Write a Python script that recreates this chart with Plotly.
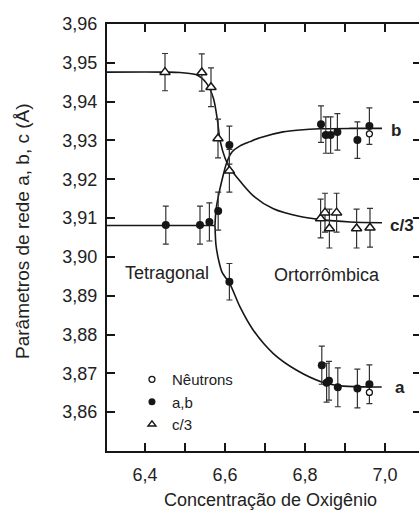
import plotly.graph_objects as go

# ---- measured lattice parameters ----
c3_x = [6.45, 6.542, 6.565, 6.5825, 6.611, 6.839, 6.85, 6.861, 6.879, 6.929, 6.9625]
c3_y = [3.9476, 3.9475, 3.9437, 3.9305, 3.9222, 3.9099, 3.9114, 3.9073, 3.9114, 3.9073, 3.9075]
c3_err = [0.0048, 0.0048, 0.005, 0.005, 0.0055, 0.005, 0.005, 0.005, 0.005, 0.005, 0.005]

ab_x = [6.452, 6.5375, 6.561, 6.583, 6.611, 6.611,
        6.84, 6.852, 6.864, 6.881, 6.931, 6.961,
        6.842, 6.854, 6.86, 6.882, 6.931, 6.961]
ab_y = [3.9082, 3.9082, 3.909, 3.9118, 3.9288, 3.8936,
        3.9342, 3.9314, 3.9314, 3.9322, 3.9301, 3.9337,
        3.8721, 3.8676, 3.8681, 3.8664, 3.8661, 3.8672]
ab_err = [0.0049, 0.0049, 0.0049, 0.0049, 0.0049, 0.0047,
          0.0047, 0.0047, 0.0047, 0.0047, 0.0047, 0.0047,
          0.0049, 0.005, 0.005, 0.005, 0.005, 0.005]

neutron_x = [6.961, 6.961]
neutron_y = [3.9317, 3.8651]

# ---- guide curves ----
c3_curve_x = [6.305, 6.45, 6.4875, 6.529, 6.554, 6.571, 6.581, 6.5875, 6.6, 6.6125,
              6.629, 6.671, 6.721, 6.788, 6.839, 6.9125, 6.9925]
c3_curve_y = [3.9476, 3.9476, 3.9475, 3.9469, 3.9447, 3.9409, 3.9353, 3.9301, 3.9255, 3.9229,
              3.9206, 3.9157, 3.9124, 3.9104, 3.9096, 3.9090, 3.9088]

tet_x = [6.305, 6.575]
tet_y = [3.9081, 3.9081]

b_curve_x = [6.575, 6.5775, 6.584, 6.5925, 6.604, 6.6175, 6.6375, 6.6625, 6.6875,
             6.745, 6.7875, 6.8375, 6.9125, 6.9925]
b_curve_y = [3.9081, 3.9121, 3.9159, 3.9198, 3.9242, 3.9270, 3.9286, 3.9297, 3.9307,
             3.9322, 3.9327, 3.9330, 3.9331, 3.9331]

a_curve_x = [6.575, 6.5775, 6.584, 6.5925, 6.6125, 6.6375, 6.6708, 6.7208, 6.7793,
             6.8418, 6.8958, 6.9918]
a_curve_y = [3.9081, 3.9030, 3.8992, 3.8961, 3.8930, 3.8871, 3.8811, 3.8751, 3.8708,
             3.8678, 3.8667, 3.8665]

# ---- axes ticks ----
x_tickvals = [6.4, 6.5, 6.6, 6.7, 6.8, 6.9, 7.0]
x_ticktext = ["6,4", "", "6,6", "", "6,8", "", "7,0"]
y_tickvals = [3.86, 3.87, 3.88, 3.89, 3.90, 3.91, 3.92, 3.93, 3.94, 3.95, 3.96]
y_ticktext = ["3,86", "3,87", "3,88", "3,89", "3,90", "3,91", "3,92", "3,93", "3,94", "3,95", "3,96"]

FONT = "Liberation Sans, Arial, Helvetica, sans-serif"
INK = "#161616"
BAR = "#333333"

fig = go.Figure()

curve_line = dict(color=INK, width=1.6, shape="spline", smoothing=0.8)
for cx, cy in [(c3_curve_x, c3_curve_y), (b_curve_x, b_curve_y), (a_curve_x, a_curve_y)]:
    fig.add_trace(go.Scatter(x=cx, y=cy, mode="lines", line=curve_line,
                             showlegend=False, hoverinfo="skip"))
fig.add_trace(go.Scatter(x=tet_x, y=tet_y, mode="lines", line=dict(color=INK, width=1.6),
                         showlegend=False, hoverinfo="skip"))

err_style = dict(type="data", visible=True, thickness=1.2, width=3, color=BAR)

fig.add_trace(go.Scatter(
    x=c3_x, y=c3_y, mode="markers", showlegend=False,
    error_y=dict(array=c3_err, **err_style),
    marker=dict(symbol="triangle-up", size=9, color="white", line=dict(color=INK, width=1.5)),
))
fig.add_trace(go.Scatter(
    x=ab_x, y=ab_y, mode="markers", showlegend=False,
    error_y=dict(array=ab_err, **err_style),
    marker=dict(symbol="circle", size=8, color=INK, line=dict(width=0)),
))
fig.add_trace(go.Scatter(
    x=neutron_x, y=neutron_y, mode="markers", showlegend=False,
    marker=dict(symbol="circle", size=6, color="white", line=dict(color=INK, width=1.3)),
))

# legend entries
fig.add_trace(go.Scatter(x=[None], y=[None], mode="markers", name="Nêutrons",
                         marker=dict(symbol="circle", size=6, color="white",
                                     line=dict(color=INK, width=1.3))))
fig.add_trace(go.Scatter(x=[None], y=[None], mode="markers", name="a,b",
                         marker=dict(symbol="circle", size=7, color=INK)))
fig.add_trace(go.Scatter(x=[None], y=[None], mode="markers", name="c/3",
                         marker=dict(symbol="triangle-up", size=7, color="white",
                                     line=dict(color=INK, width=1.4))))

# right-hand tick marks (no axis line on that side)
fig.add_trace(go.Scatter(x=[None], y=[None], yaxis="y2", showlegend=False))

axis_common = dict(showgrid=False, zeroline=False, ticks="inside", ticklen=8, tickwidth=1.5,
                   tickcolor=INK, linecolor=INK, linewidth=2, automargin=False,
                   tickfont=dict(family=FONT, size=18, color="#222222"))

fig.update_layout(
    template="none",
    width=419, height=517,
    margin=dict(l=107, r=0, t=24, b=66, pad=0),
    paper_bgcolor="white", plot_bgcolor="white",
    font=dict(family=FONT, color="#222222"),
    xaxis=dict(range=[6.305, 7.085], tickvals=x_tickvals, ticktext=x_ticktext,
               showline=True, mirror="ticks", ticklabelstandoff=6, **axis_common),
    yaxis=dict(range=[3.85, 3.96], tickvals=y_tickvals, ticktext=y_ticktext,
               showline=True, mirror=False, ticklabelstandoff=4, **axis_common),
    yaxis2=dict(range=[3.85, 3.96], overlaying="y", side="right", tickvals=y_tickvals,
                showticklabels=False, showline=False, showgrid=False, zeroline=False,
                automargin=False, ticks="inside", ticklen=6, tickwidth=1.5, tickcolor=INK),
    legend=dict(x=0.08, y=0.206, xanchor="left", yanchor="top",
                bgcolor="rgba(0,0,0,0)", font=dict(family=FONT, size=15, color="#222222"),
                itemwidth=30, tracegroupgap=0),
    showlegend=True,
)

ann = [
    dict(text="Parâmetros de rede a, b, c (Å)", x=22, y=231, textangle=-90, size=19),
    dict(text="Concentração de Oxigênio", x=270, y=500, textangle=0, size=18),
]
for a in ann:
    fig.add_annotation(text=a["text"], xref="paper", yref="paper",
                       x=(a["x"] - 107) / 312, y=(451 - a["y"]) / 427,
                       xanchor="center", yanchor="middle", textangle=a["textangle"],
                       showarrow=False, font=dict(family=FONT, size=a["size"], color="#222222"))

fig.add_annotation(text="Tetragonal", x=6.345, y=3.8958, xanchor="left", yanchor="middle",
                   showarrow=False, font=dict(family=FONT, size=18, color="#222222"))
fig.add_annotation(text="Ortorrômbica", x=6.7175, y=3.8953, xanchor="left", yanchor="middle",
                   showarrow=False, font=dict(family=FONT, size=18, color="#222222"))
for label, lx, ly in [("b", 7.011, 3.9326), ("c/3", 7.008, 3.9082), ("a", 7.021, 3.8664)]:
    fig.add_annotation(text="<b>" + label + "</b>", x=lx, y=ly, xanchor="left", yanchor="middle",
                       showarrow=False, font=dict(family=FONT, size=17, color="#222222"))

fig.write_html("out.html")
